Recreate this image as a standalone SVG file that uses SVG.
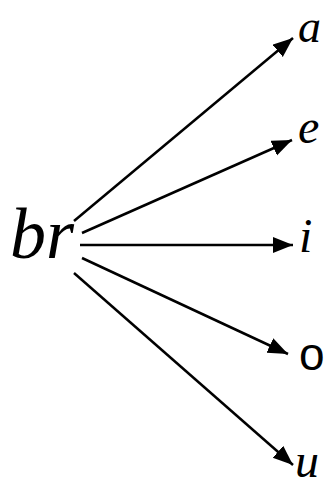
<svg xmlns="http://www.w3.org/2000/svg" width="331" height="486" viewBox="0 0 331 486">
<style>
.cur{font-family:"Liberation Serif","DejaVu Serif",serif;font-style:italic;fill:#000}
.sans{font-family:"Liberation Sans","DejaVu Sans",sans-serif;fill:#000}
.edge{stroke:#000;stroke-width:2.5;fill:none;marker-end:url(#ah)}
</style>
<defs>
<marker id="ah" markerUnits="userSpaceOnUse" markerWidth="22" markerHeight="18" refX="20" refY="8" orient="auto" viewBox="0 0 22 18">
<path d="M0,0 L20,8 L0,16 z" fill="#000"/>
</marker>
</defs>
<rect width="331" height="486" fill="#fff"/>
<g id="connectors">
<line class="edge" x1="74" y1="221" x2="293" y2="38"/>
<line class="edge" x1="82" y1="233" x2="292" y2="140"/>
<line class="edge" x1="80" y1="245" x2="293" y2="245"/>
<line class="edge" x1="82" y1="258" x2="288" y2="354"/>
<line class="edge" x1="74" y1="273" x2="293" y2="465"/>
</g>
<g id="node-br"><text class="cur" x="10" y="258" font-size="72">br</text></g>
<g id="node-a"><text class="cur" x="298" y="42" font-size="46">a</text></g>
<g id="node-e"><text class="cur" x="298" y="143" font-size="48">e</text></g>
<g id="node-i"><text class="cur" x="299" y="252" font-size="48">i</text></g>
<g id="node-o"><text class="sans" x="299" y="370" font-size="46">o</text></g>
<g id="node-u"><text class="cur" x="295" y="477" font-size="48">u</text></g>
</svg>
